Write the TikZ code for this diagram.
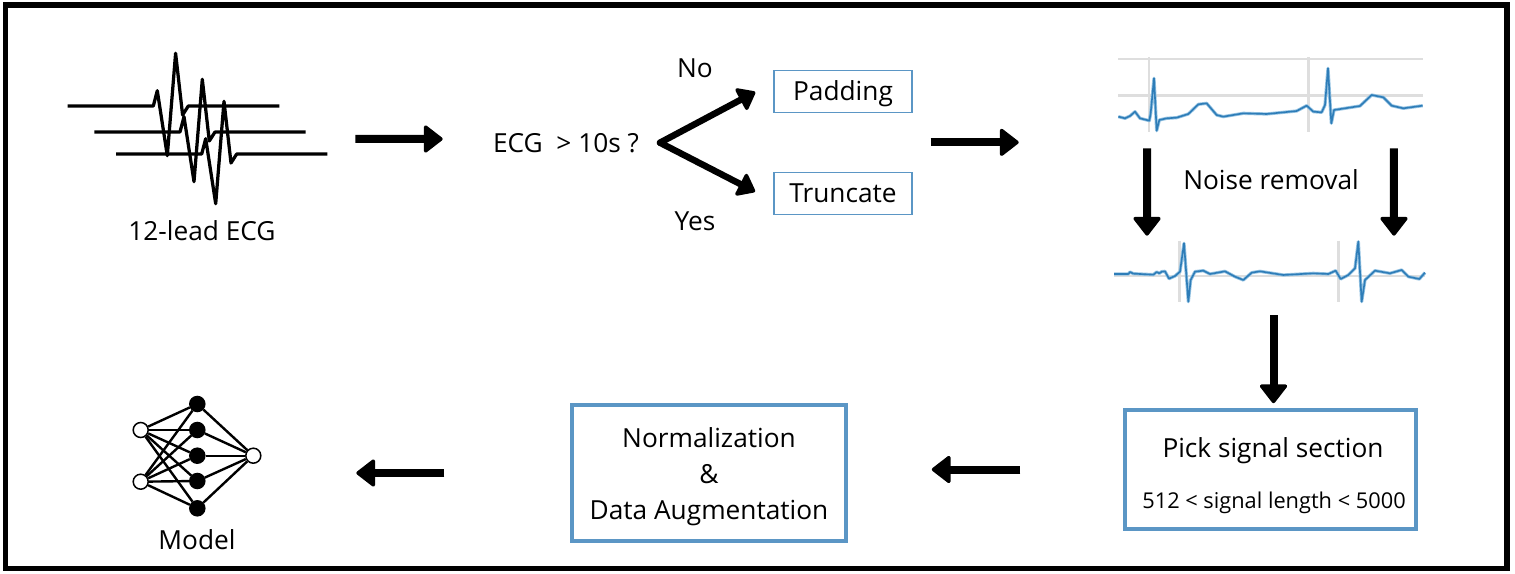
\documentclass[tikz,border=0pt]{standalone}
\usepackage{fontspec}
\setmainfont{Open Sans}
\definecolor{boxblue}{RGB}{91,150,197}
\definecolor{traceblue}{RGB}{46,125,184}
\definecolor{tracehalo}{RGB}{150,195,226}
\definecolor{gridgray}{RGB}{222,222,222}
\usetikzlibrary{arrows.meta,positioning,calc}

\begin{document}
\begin{tikzpicture}[
    x=0.02cm, y=-0.02cm,
    label/.style={inner sep=0pt, font=\fontsize{14.95}{20.4}\selectfont, align=center, text=black},
    small/.style={inner sep=0pt, font=\fontsize{12.4}{20}\selectfont, align=center},
    thinbox/.style={rectangle, draw=boxblue, line width=1.4*0.02cm, minimum width=2.76cm, minimum height=0.84cm, inner sep=0pt, text height=0.472cm, text depth=0.1cm},
    bigbox/.style={rectangle, draw=boxblue, line width=0.072cm, inner sep=0pt},
    spot/.style={rectangle, inner sep=0pt},
    bigarrow/.style={-{Triangle[length=0.4cm,width=0.6cm,line width=0.07cm,round]}, line width=0.16cm},
    forkarrow/.style={-{Triangle[length=0.36cm,width=0.54cm,line width=0.07cm,round]}, line width=0.13cm, line cap=round},
    ecgline/.style={line width=0.065cm, line join=round},
    grid/.style={line width=0.05cm, gridgray},
    trace/.style={traceblue, line width=0.032cm, line join=round, preaction={draw, tracehalo, line width=0.065cm, line join=round}},
    whitedot/.style={circle, draw, fill=white, line width=0.03cm, minimum size=0.3cm, inner sep=0pt},
    blackdot/.style={circle, draw, fill=black, line width=0.03cm, minimum size=0.3cm, inner sep=0pt},
    nnline/.style={line width=0.048cm}
  ]
    \useasboundingbox (0,0) rectangle (1515,574);

    % Outer frame
    \draw[line width=0.115cm] (5.5,5) rectangle (1507,568.5);

    % 12-lead ECG symbol
    \node[spot, minimum width=5.22cm, minimum height=2.66cm] (ecgicon) at (197.5,118.5) {};
    \foreach \bx/\by/\sx/\ex in {153.3/106/67.7/279.3, 180/132/94.3/305.7, 201.7/154/116/327.3}
      \draw[ecgline] (\sx,\by) -- (\bx,\by) -- ++(4,-15.3) -- ++(10,65) -- ++(8.3,-102.4)
        -- ++(7,61.7) -- ++(5.7,-9) -- (\ex,\by);
    \node[label] (ecglabel) at (202,231) {12-lead ECG};

    % Length check
    \node[label] (cond) at (566,143) {ECG\ \ > 10s ?};
    \coordinate (forkpt) at (660,142.7);
    \node[thinbox, label] (padding) at (843,91.4) {Padding};
    \node[thinbox, label] (truncate) at (843,193.3) {Truncate};
    \node[label] (no) at (695,68) {No};
    \node[label] (yes) at (695,221) {Yes};
    \draw[forkarrow, shorten >=0.41cm] (forkpt) -- ([yshift=0.18cm]padding.west);
    \draw[forkarrow, shorten >=0.41cm] (forkpt) -- ([yshift=-0.155cm]truncate.west);
    \draw[bigarrow, shorten <=0.54cm, shorten >=1.0cm] ([yshift=-0.41cm]ecgicon.east) -- ([yshift=0.08cm]cond.west);
    \coordinate (merge) at ($(padding.east)!0.5!(truncate.east)$);

    % Raw trace
    \node[spot, minimum width=6.1cm, minimum height=1.48cm] (raw) at (1270.5,95) {};
    \begin{scope}[shift={(1100,40)}, x=0.02cm/3, y=-0.02cm/3]
      \draw[grid] (55,57) -- (968,57);
      \draw[grid] (55,167) -- (968,167);
      \draw[grid] (147,52) -- (147,275);
      \draw[grid] (625,52) -- (625,275);
      \draw[trace] plot coordinates {(55,230) (75,235) (90,228) (105,215) (120,235) (148,242) (152,220) (162,115) (170,272) (178,240) (200,235) (230,233) (265,222) (295,193) (320,190) (350,225) (370,230) (430,220) (500,222) (590,213) (620,197) (640,215) (665,217) (675,195) (684,85) (694,250) (702,210) (780,198) (815,165) (850,172) (875,197) (910,205) (968,197)};
    \end{scope}
    \draw[bigarrow, shorten <=0.36cm, shorten >=1.98cm] (merge) -- (merge -| raw.west);

    % Filtered trace
    \node[spot, minimum width=6.24cm, minimum height=1.22cm] (clean) at (1270,271.5) {};
    \begin{scope}[shift={(1100,230)}, x=0.02cm/3, y=-0.02cm/3]
      \draw[grid] (42,138) -- (975,138);
      \draw[grid] (238,33) -- (238,215);
      \draw[grid] (716,33) -- (716,215);
      \draw[trace] plot coordinates {(42,132) (85,132) (90,126) (100,131) (160,134) (170,126) (178,130) (185,125) (195,124) (207,146) (225,138) (240,125) (252,40) (265,215) (272,150) (285,125) (310,122) (330,132) (375,124) (405,140) (430,150) (455,128) (480,124) (550,135) (640,130) (685,132) (707,122) (722,147) (745,135) (765,115) (775,35) (785,215) (795,150) (825,122) (870,130) (905,120) (925,140) (958,147) (975,128)};
    \end{scope}
    \node[label] (noise) at (1271,180) {Noise removal};
    \draw[bigarrow, shorten <=0.32cm, shorten >=0.1cm] ([xshift=-2.47cm]raw.south) -- ([xshift=-2.46cm]clean.north);
    \draw[bigarrow, shorten <=0.32cm, shorten >=0.1cm] ([xshift=2.47cm]raw.south) -- ([xshift=2.48cm]clean.north);

    % Bottom row
    \node[bigbox, minimum width=5.82cm, minimum height=2.38cm] (pick) at (1270.5,469.5) {};
    \node[label] (picktext) at (1273,451) {Pick signal section};
    \node[small] (picklen) at (1274,503) {512 < signal length < 5000};
    \node[bigbox, minimum width=5.48cm, minimum height=2.72cm] (norm) at (709,473) {};
    \node[label] (normtext) at (709,477) {Normalization\\\&\\Data Augmentation};
    \draw[bigarrow, shorten <=0.26cm, shorten >=0.1cm] ([xshift=0.07cm]clean.south) -- ([xshift=0.07cm]clean.south |- pick.north);
    \draw[bigarrow, shorten <=2.06cm, shorten >=1.68cm] (pick.west) -- (pick.west -| norm.east);

    % Network symbol
    \node[whitedot] (in1) at (140.7,430) {};
    \node[whitedot] (in2) at (140.7,481.7) {};
    \foreach \n/\y in {1/404,2/430,3/455.7,4/481,5/508.3}
      \node[blackdot] (hid\n) at (197.3,\y) {};
    \node[whitedot] (out) at (253.3,455.7) {};
    \foreach \n in {1,...,5} {
      \draw[nnline] (in1) -- (hid\n);
      \draw[nnline] (in2) -- (hid\n);
      \draw[nnline] (hid\n) -- (out);
    }
    \node[label] (model) at (197,540) {Model};
    \draw[bigarrow, shorten <=2.52cm, shorten >=2.06cm] (norm.west) -- (norm.west -| out);
\end{tikzpicture}
\end{document}
